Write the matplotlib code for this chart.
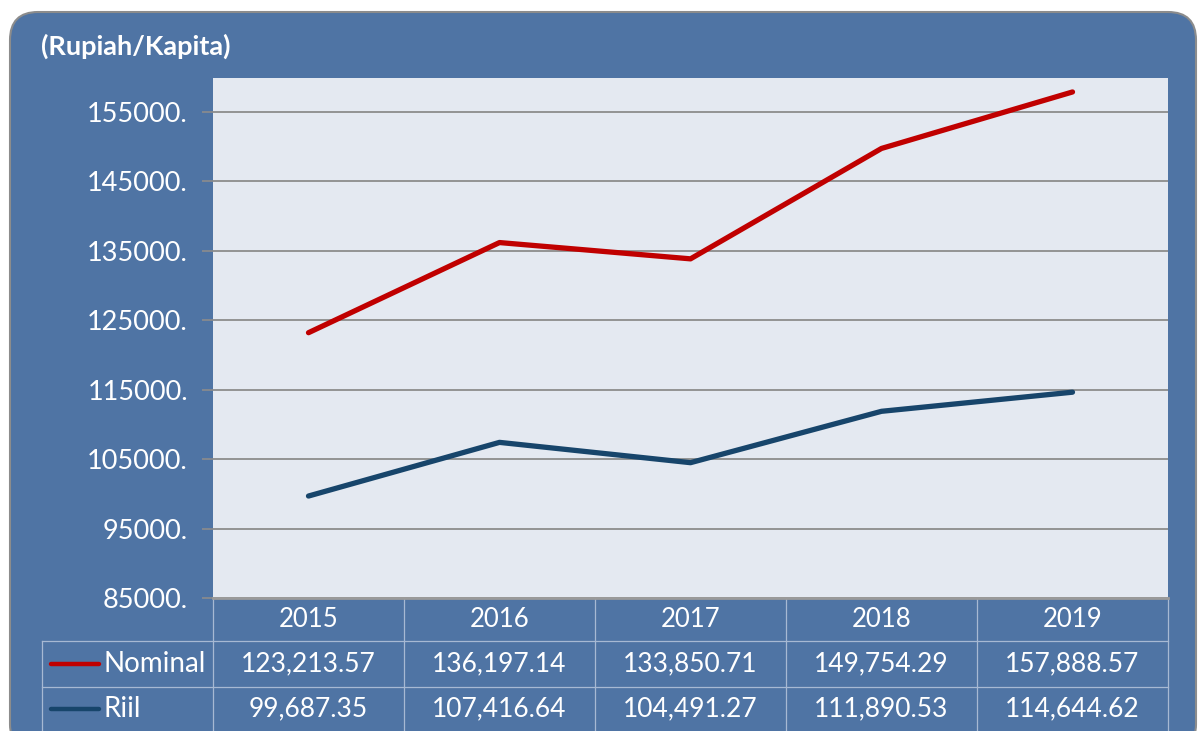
import matplotlib.pyplot as plt
from matplotlib.patches import FancyBboxPatch

plt.rcParams['font.family'] = ['Lato', 'DejaVu Sans']

years = ['2015', '2016', '2017', '2018', '2019']
nominal = [123213.57, 136197.14, 133850.71, 149754.29, 157888.57]
riil = [99687.35, 107416.64, 104491.27, 111890.53, 114644.62]
series_names = ['Nominal', 'Riil']
yticks = [85000, 95000, 105000, 115000, 125000, 135000, 145000, 155000]

W, H = 1198, 731
box_col = '#4F74A4'
grid_col = '#A7B9D3'
red = '#C00000'
navy = '#17456B'

fig = plt.figure(figsize=(W / 100, H / 100), dpi=100)

# background axes in pixel coordinates
bg = fig.add_axes([0, 0, 1, 1])
bg.set_xlim(0, W)
bg.set_ylim(H, 0)
bg.axis('off')
bg.add_patch(FancyBboxPatch((10, 12), 1186, 740, boxstyle='round,pad=0,rounding_size=28',
                            fc=box_col, ec='#8C8C8C', lw=1.5))
bg.text(41, 46, '(Rupiah/Kapita)', color='white', fontsize=19.5, fontweight='bold',
        va='center', ha='left')

# plot area
px0, px1, py0, py1 = 213, 1168, 78, 598
ax = fig.add_axes([px0 / W, (H - py1) / H, (px1 - px0) / W, (py1 - py0) / H])
ax.set_facecolor('#E4E9F1')
x = list(range(len(years)))
ax.plot(x, nominal, color=red, lw=3.8, solid_capstyle='round', zorder=3)
ax.plot(x, riil, color=navy, lw=3.8, solid_capstyle='round', zorder=3)
ax.set_xlim(-0.5, len(years) - 0.5)
ax.set_ylim(85000, 159900)
ax.set_yticks(yticks)
ax.set_yticklabels([f'{v}.' for v in yticks], color='white', fontsize=19.5)
ax.tick_params(axis='y', length=8, width=1.2, color='#8C8C8C', pad=10)
ax.set_xticks([])
ax.yaxis.grid(True, color='#8C8C8C', lw=1.3)
ax.set_axisbelow(True)
for s in ['top', 'right', 'left']:
    ax.spines[s].set_visible(False)
ax.spines['bottom'].set_color('#9A9A9A')
ax.spines['bottom'].set_linewidth(2)

# data table below the plot
colw = (px1 - px0) / len(years)
rows = [py1, 641, 687, H]
leg_x = 42
for i in range(len(years) + 1):
    bg.plot([px0 + i * colw] * 2, [py1, H], color=grid_col, lw=0.9)
bg.plot([leg_x, leg_x], [641, H], color=grid_col, lw=0.9)
for yy in rows[1:3]:
    bg.plot([leg_x, px1], [yy, yy], color=grid_col, lw=0.9)

for i, yr in enumerate(years):
    cx = px0 + (i + 0.5) * colw
    bg.text(cx, (rows[0] + rows[1]) / 2, yr, color='white', fontsize=18.5, ha='center', va='center')
    for r, vals in enumerate([nominal, riil]):
        bg.text(cx, (rows[r + 1] + rows[r + 2]) / 2, f'{vals[i]:,.2f}', color='white',
                fontsize=19, ha='center', va='center')

for r, (name, col) in enumerate(zip(series_names, [red, navy])):
    cy = (rows[r + 1] + rows[r + 2]) / 2
    bg.plot([51, 99], [cy, cy], color=col, lw=3.2, solid_capstyle='round')
    bg.text(104, cy, name, color='white', fontsize=20, ha='left', va='center')

fig.savefig('out.png', dpi=100)
